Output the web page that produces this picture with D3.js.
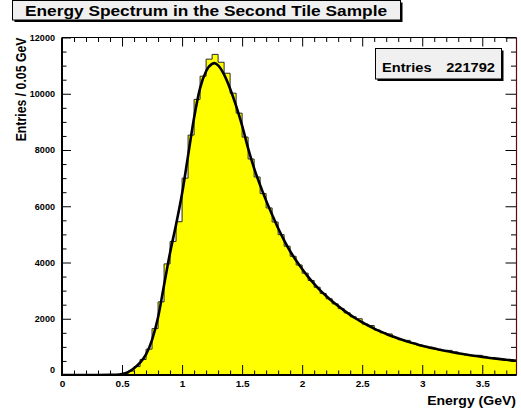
<!DOCTYPE html>
<html>
<head>
<meta charset="utf-8">
<script src="https://cdn.jsdelivr.net/npm/d3@7"></script>
<style>
  html, body { margin: 0; padding: 0; background: #ffffff; }
  svg { display: block; }
  text { font-family: "Liberation Sans", Arial, Helvetica, sans-serif; font-weight: bold; fill: #000; }
</style>
</head>
<body>
<svg id="chart" width="521" height="418"></svg>
<script>
// Histogram: entries per 0.05 GeV bin, starting at 0 GeV
const binWidth = 0.05;
const counts = [
  0, 0, 0, 0, 0, 0, 0, 0, 3, 12,
  45, 140, 300, 550, 920, 1650, 2600, 3950, 4750, 5450,
  7000, 8530, 9800, 10625, 11230, 11400, 11120, 10730, 10020, 9310,
  8460, 7680, 7040, 6450, 5940, 5440, 4990, 4580, 4220, 3910,
  3620, 3360, 3120, 2900, 2710, 2530, 2360, 2210, 2070, 2000,
  1810, 1760, 1600, 1500, 1460, 1335, 1255, 1230, 1125, 1070,
  1015, 965, 915, 870, 875, 815, 755, 720, 690, 700,
  628, 600, 575, 552, 530, 510
];

// Fitted spectrum, sampled along the energy axis
const fitE = [0, 0.1, 0.2, 0.3, 0.4, 0.45, 0.5, 0.55, 0.6, 0.65, 0.7, 0.75, 0.8, 0.85, 0.9, 0.95,
  1.0, 1.05, 1.1, 1.15, 1.2, 1.25, 1.27, 1.3, 1.35, 1.4, 1.45, 1.5, 1.55, 1.6, 1.65, 1.7, 1.75,
  1.8, 1.85, 1.9, 1.95, 2.0, 2.05, 2.1, 2.15, 2.2, 2.25, 2.3, 2.35, 2.4, 2.45, 2.5, 2.55, 2.6,
  2.65, 2.7, 2.75, 2.8, 2.85, 2.9, 2.95, 3.0, 3.05, 3.1, 3.15, 3.2, 3.25, 3.3, 3.35, 3.4, 3.45,
  3.5, 3.55, 3.6, 3.65, 3.7, 3.75, 3.785];
const fitV = [0, 0, 0, 1, 3, 10, 35, 105, 240, 440, 730, 1250, 2050, 3200, 4350, 5350,
  6450, 7800, 9150, 10200, 10800, 11060, 11090, 11010, 10680, 10180, 9570, 8870, 8060, 7350, 6750, 6200, 5700,
  5220, 4790, 4400, 4070, 3770, 3490, 3240, 3010, 2810, 2620, 2450, 2290, 2140, 2000, 1880, 1760, 1650,
  1550, 1460, 1375, 1295, 1225, 1160, 1100, 1040, 990, 940, 895, 850, 810, 775, 740, 705, 675,
  645, 615, 590, 565, 540, 520, 505];

// Axis ranges and tick values
const xDomain = [0, 3.785];
const yDomain = [0, 12000];
const xMajor = [0, 0.5, 1, 1.5, 2, 2.5, 3, 3.5];
const xMajorLabels = ["0", "0.5", "1", "1.5", "2", "2.5", "3", "3.5"];
const yMajor = [0, 2000, 4000, 6000, 8000, 10000, 12000];
const yMajorLabels = ["0", "2000", "4000", "6000", "8000", "10000", "12000"];

const titleText = "Energy Spectrum in the Second Tile Sample";
const xTitle = "Energy (GeV)";
const yTitle = "Entries / 0.05 GeV";
const statsLabel = "Entries";
const statsValue = "221792";

const SX = 1.17; // horizontal text stretch

const svg = d3.select("#chart");
const frame = { left: 62, right: 516.5, top: 37.5, bottom: 375 };

const x = d3.scaleLinear().domain(xDomain).range([frame.left, frame.right]);
const y = d3.scaleLinear().domain(yDomain).range([frame.bottom, frame.top]);

svg.append("defs").append("clipPath").attr("id", "plotClip")
  .append("rect")
  .attr("x", frame.left).attr("y", frame.top - 2)
  .attr("width", frame.right - frame.left).attr("height", frame.bottom - frame.top + 2);

const plot = svg.append("g").attr("clip-path", "url(#plotClip)");

// step outline of the histogram
const steps = [];
counts.forEach((c, i) => {
  steps.push({ e: i * binWidth, v: c });
});
steps.push({ e: counts.length * binWidth, v: counts[counts.length - 1] });

const area = d3.area()
  .x(d => x(d.e)).y0(y(0)).y1(d => y(d.v))
  .curve(d3.curveStepAfter);
const line = d3.line()
  .x(d => x(d.e)).y(d => y(d.v))
  .curve(d3.curveStepAfter);

plot.append("path").datum(steps)
  .attr("d", area)
  .attr("fill", "#ffff00");
plot.append("path").datum(steps)
  .attr("d", line)
  .attr("fill", "none")
  .attr("stroke", "#2a2a2a")
  .attr("stroke-width", 1);

// fit curve
const fitPts = fitE.map((e, i) => ({ e, v: fitV[i] }));
plot.append("path").datum(fitPts)
  .attr("d", d3.line().x(d => x(d.e)).y(d => y(d.v)).curve(d3.curveMonotoneX))
  .attr("fill", "none")
  .attr("stroke", "#000")
  .attr("stroke-width", 2.6)
  .attr("stroke-linejoin", "round");

// axes with ticks drawn inside the frame
const xMinor = d3.range(0, 3.79, 0.1).filter(v => Math.abs(v * 2 - Math.round(v * 2)) > 1e-6);
const yMinor = d3.range(0, 12001, 500).filter(v => v % 2000 !== 0);

function styleAxis(g) {
  g.select(".domain").remove();
  g.selectAll("line").attr("stroke", "#000").attr("stroke-width", 1);
}

// bottom
svg.append("g").attr("transform", `translate(0,${frame.bottom})`)
  .call(d3.axisBottom(x).tickValues(xMinor).tickSize(-4.5).tickFormat(""))
  .call(styleAxis);
const xAx = svg.append("g").attr("transform", `translate(0,${frame.bottom})`)
  .call(d3.axisBottom(x).tickValues(xMajor).tickSize(-10)
    .tickFormat((d, i) => xMajorLabels[i]))
  .call(styleAxis);
xAx.selectAll("text")
  .attr("y", 0).attr("dy", 0)
  .attr("transform", "translate(0,12) scale(" + SX + ",1)")
  .style("font-size", "8.6px")
  .style("font-family", "'Liberation Sans', Arial, sans-serif")
  .style("font-weight", "bold")
  .attr("fill", "#000");

// top
svg.append("g").attr("transform", `translate(0,${frame.top})`)
  .call(d3.axisTop(x).tickValues(xMinor).tickSize(-4.5).tickFormat(""))
  .call(styleAxis);
svg.append("g").attr("transform", `translate(0,${frame.top})`)
  .call(d3.axisTop(x).tickValues(xMajor).tickSize(-9).tickFormat(""))
  .call(styleAxis);

// left
svg.append("g").attr("transform", `translate(${frame.left},0)`)
  .call(d3.axisLeft(y).tickValues(yMinor).tickSize(-4.5).tickFormat(""))
  .call(styleAxis);
const yAx = svg.append("g").attr("transform", `translate(${frame.left},0)`)
  .call(d3.axisLeft(y).tickValues(yMajor).tickSize(-9)
    .tickFormat((d, i) => yMajorLabels[i]))
  .call(styleAxis);
yAx.selectAll("text")
  .attr("x", 0).attr("dy", "0.34em")
  .attr("text-anchor", "end")
  .attr("transform", d => `translate(-7,${d === 0 ? -5 : 0}) scale(1.08,1)`)
  .style("font-size", "8.4px")
  .style("font-family", "'Liberation Sans', Arial, sans-serif")
  .style("font-weight", "bold")
  .attr("fill", "#000");

// right
svg.append("g").attr("transform", `translate(${frame.right},0)`)
  .call(d3.axisRight(y).tickValues(yMinor).tickSize(-5.5).tickFormat(""))
  .call(styleAxis);
svg.append("g").attr("transform", `translate(${frame.right},0)`)
  .call(d3.axisRight(y).tickValues(yMajor).tickSize(-11).tickFormat(""))
  .call(styleAxis);

// frame lines
svg.append("line").attr("x1", frame.left).attr("x2", frame.right)
  .attr("y1", frame.top).attr("y2", frame.top).attr("stroke", "#000").attr("stroke-width", 1);
svg.append("line").attr("x1", frame.right).attr("x2", frame.right)
  .attr("y1", frame.top).attr("y2", frame.bottom).attr("stroke", "#5a0c0c").attr("stroke-width", 1.2);
svg.append("line").attr("x1", frame.left - 1).attr("x2", frame.right)
  .attr("y1", frame.bottom).attr("y2", frame.bottom).attr("stroke", "#000").attr("stroke-width", 2);
svg.append("line").attr("x1", frame.left).attr("x2", frame.left)
  .attr("y1", frame.top).attr("y2", frame.bottom + 1).attr("stroke", "#000").attr("stroke-width", 2);

// axis titles
svg.append("text")
  .attr("text-anchor", "end")
  .attr("transform", `translate(516,405) scale(${SX},1)`)
  .style("font-size", "12px")
  .text(xTitle);
svg.append("text")
  .attr("text-anchor", "end")
  .attr("transform", `translate(25.5,37.5) scale(${SX},1) rotate(-90)`)
  .style("font-size", "12.3px")
  .text(yTitle);

// title box
function shadowBox(x0, y0, w, h, fill) {
  svg.append("rect").attr("x", x0 + 2).attr("y", y0 + 2).attr("width", w).attr("height", h)
    .attr("fill", "#000");
  svg.append("rect").attr("x", x0).attr("y", y0).attr("width", w).attr("height", h)
    .attr("fill", fill).attr("stroke", "#000").attr("stroke-width", 1);
}
shadowBox(12.5, 0.5, 388, 19.5, "#f0f0f0");
svg.append("text")
  .attr("text-anchor", "middle")
  .attr("transform", `translate(206,16) scale(${SX},1)`)
  .style("font-size", "14.8px")
  .text(titleText);

// statistics box
shadowBox(375.5, 48.5, 126, 30.5, "#f0f0f0");
svg.append("text")
  .attr("transform", `translate(382,71.5) scale(${SX},1)`)
  .style("font-size", "12.5px")
  .text(statsLabel);
svg.append("text")
  .attr("text-anchor", "end")
  .attr("transform", `translate(495,71.5) scale(${SX},1)`)
  .style("font-size", "12.5px")
  .text(statsValue);
</script>
</body>
</html>
